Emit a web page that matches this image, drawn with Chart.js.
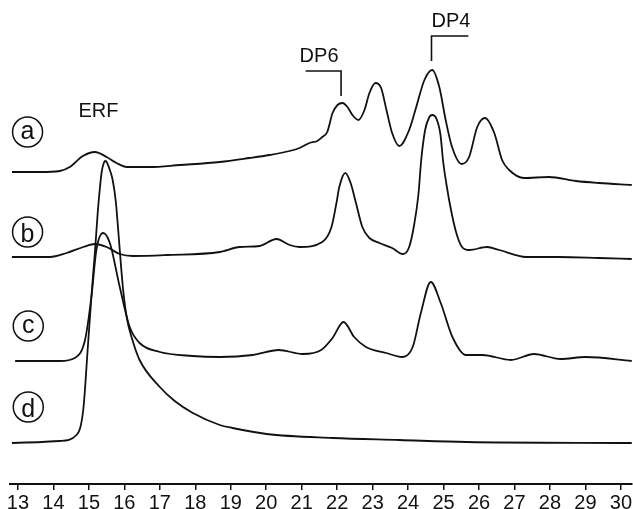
<!DOCTYPE html>
<html>
<head>
<meta charset="utf-8">
<script src="https://cdn.jsdelivr.net/npm/chart.js@4.4.0/dist/chart.umd.min.js"></script>
<style>
    html, body { margin: 0; padding: 0; background: #fff; }
</style>
</head>
<body>
<canvas id="chart" width="633" height="509"></canvas>
<script>
// retention time (min) ticks
const xTicks = [13, 14, 15, 16, 17, 18, 19, 20, 21, 22, 23, 24, 25, 26, 27, 28, 29, 30];

// [time, detector response] (stacked, arbitrary units)
const traceA = [
    [12.83, 312], [13.62, 312], [14.18, 313], [14.46, 317], [14.83, 328], [15.17, 332],
    [15.50, 327], [15.78, 321], [16.07, 317], [16.72, 317], [17.56, 319], [18.69, 322],
    [19.53, 326], [20.09, 329], [20.66, 333], [20.94, 336], [21.22, 341], [21.44, 343],
    [21.58, 347], [21.72, 352], [21.87, 371], [22.01, 379], [22.15, 381], [22.29, 377],
    [22.43, 369], [22.60, 364], [22.77, 374], [22.91, 391], [23.08, 401], [23.24, 396],
    [23.39, 374], [23.55, 351], [23.75, 338], [24.03, 354], [24.23, 377], [24.46, 404],
    [24.68, 414], [24.88, 397], [25.06, 364], [25.24, 337], [25.51, 320], [25.72, 327],
    [25.95, 357], [26.17, 366], [26.43, 351], [26.65, 324], [26.85, 314], [27.27, 306],
    [27.97, 307], [28.73, 303], [29.38, 301], [30.31, 299],
];
const traceB = [
    [12.83, 227], [13.90, 227], [14.37, 231], [14.84, 237], [15.17, 240], [15.50, 237],
    [15.87, 230], [16.24, 228], [17.19, 229], [18.69, 232], [19.25, 237], [19.81, 238],
    [20.29, 245], [20.66, 239], [20.94, 237], [21.58, 242], [21.84, 257], [21.98, 281],
    [22.06, 297], [22.23, 311], [22.38, 301], [22.53, 281], [22.71, 257], [22.91, 246],
    [23.19, 241], [23.55, 236], [23.86, 230], [24.03, 237], [24.17, 259], [24.29, 289],
    [24.37, 324], [24.48, 354], [24.60, 367], [24.68, 369], [24.79, 366], [24.91, 350],
    [24.99, 322], [25.08, 300], [25.21, 274], [25.36, 251], [25.52, 237], [25.72, 234],
    [26.23, 237], [26.57, 234], [27.33, 227], [28.25, 227], [29.38, 226], [30.31, 225],
];
const traceC = [
    [12.92, 123], [14.18, 123], [14.60, 126], [14.89, 144], [15.07, 187], [15.21, 234],
    [15.40, 251], [15.59, 241], [15.87, 197], [16.15, 157], [16.43, 141], [17.00, 132],
    [17.92, 128], [18.69, 127], [19.62, 129], [20.35, 134], [21.03, 130], [21.55, 134],
    [21.87, 146], [22.18, 162], [22.48, 147], [22.81, 137], [23.38, 131], [23.84, 127],
    [24.13, 137], [24.36, 171], [24.64, 202], [24.92, 181], [25.25, 147], [25.63, 129],
    [26.10, 129], [26.90, 124], [27.55, 130], [28.30, 125], [29.01, 127], [30.31, 123],
];
const traceD = [
    [12.83, 41], [14.18, 43], [14.65, 49], [14.84, 74], [14.97, 137], [15.08, 192],
    [15.17, 232], [15.25, 272], [15.31, 296], [15.36, 312], [15.42, 321], [15.45, 323],
    [15.50, 322], [15.59, 314], [15.67, 304], [15.76, 282], [15.81, 261], [15.96, 196],
    [16.07, 166], [16.21, 146], [16.43, 124], [17.00, 97], [17.42, 83], [17.93, 71],
    [18.69, 59], [19.05, 56], [20.01, 50], [21.87, 46], [23.75, 44], [25.64, 42],
    [30.31, 41],
];

const traceTags = [
    { text: "a", x: 13.27, y: 352 },
    { text: "b", x: 13.27, y: 252 },
    { text: "c", x: 13.29, y: 158 },
    { text: "d", x: 13.29, y: 77 },
];
const peakLabels = [
    { text: "ERF", x: 15.27, y: 373 },
    { text: "DP6", x: 21.49, y: 428 },
    { text: "DP4", x: 25.21, y: 463 },
];
// horizontal bar from -> to, then a drop at "to"
const brackets = [
    { from: 21.11, to: 22.11, top: 413, bottom: 388 },
    { from: 25.70, to: 24.66, top: 448, bottom: 423 },
];

const INK = "#111";

const annotate = {
    id: "annotate",
    afterDatasetsDraw(chart) {
        const { ctx, scales: { x, y } } = chart;
        ctx.save();
        ctx.fillStyle = INK;
        ctx.strokeStyle = INK;
        ctx.textAlign = "center";

        ctx.font = '20px "Liberation Sans", Arial, sans-serif';
        ctx.textBaseline = "middle";
        peakLabels.forEach((l) => ctx.fillText(l.text, x.getPixelForValue(l.x), y.getPixelForValue(l.y)));

        ctx.lineWidth = 1.6;
        brackets.forEach((b) => {
            ctx.beginPath();
            ctx.moveTo(x.getPixelForValue(b.from), y.getPixelForValue(b.top));
            ctx.lineTo(x.getPixelForValue(b.to), y.getPixelForValue(b.top));
            ctx.lineTo(x.getPixelForValue(b.to), y.getPixelForValue(b.bottom));
            ctx.stroke();
        });

        ctx.font = '25px "Liberation Sans", Arial, sans-serif';
        ctx.textBaseline = "alphabetic";
        ctx.lineWidth = 1.5;
        traceTags.forEach((t) => {
            const px = x.getPixelForValue(t.x);
            const py = y.getPixelForValue(t.y);
            ctx.beginPath();
            ctx.arc(px, py, 15, 0, Math.PI * 2);
            ctx.stroke();
            const m = ctx.measureText(t.text);
            ctx.fillText(t.text, px, py + (m.actualBoundingBoxAscent - m.actualBoundingBoxDescent) / 2);
        });
        ctx.restore();
    },
};

const toPoints = (trace) => trace.map(([t, v]) => ({ x: t, y: v }));

new Chart(document.getElementById("chart"), {
    type: "line",
    data: {
        datasets: [traceA, traceB, traceC, traceD].map((trace) => ({
            data: toPoints(trace),
            borderColor: INK,
            borderWidth: 1.8,
            pointRadius: 0,
            fill: false,
            cubicInterpolationMode: "monotone",
        })),
    },
    options: {
        responsive: false,
        animation: false,
        layout: { padding: { left: 10, right: 0, top: 0, bottom: 0 } },
        plugins: { legend: { display: false }, tooltip: { enabled: false } },
        scales: {
            x: {
                type: "linear",
                min: 12.775,
                max: 30.31,
                afterBuildTicks: (s) => { s.ticks = xTicks.map((v) => ({ value: v })); },
                afterFit: (s) => { s.height = 25; },
                border: { display: true, color: INK, width: 2 },
                grid: { drawOnChartArea: false, drawTicks: true, tickLength: 6, color: INK, lineWidth: 1.5 },
                ticks: {
                    padding: 1,
                    color: INK,
                    maxRotation: 0,
                    autoSkip: false,
                    font: { family: '"Liberation Sans Narrow", "Liberation Sans", Arial, sans-serif', size: 20 },
                },
            },
            y: { display: false, min: 0, max: 484 },
        },
    },
    plugins: [annotate],
});
</script>
</body>
</html>
